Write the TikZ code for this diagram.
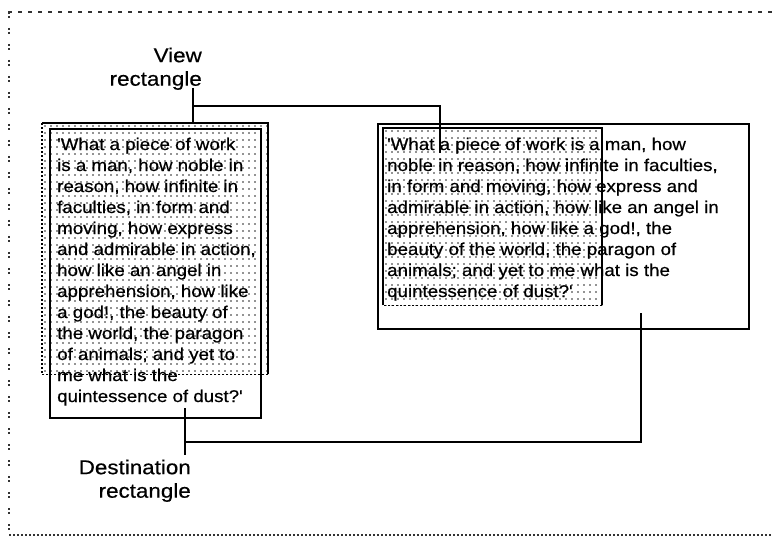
\documentclass[tikz,border=0pt]{standalone}
\usepackage{fontspec}
\setmainfont{Liberation Sans}
\newfontfamily\bodyfont[FakeStretch=1.1,FakeBold=0.6]{Liberation Sans}
\newfontfamily\labelfont[FakeStretch=1.12,FakeBold=0.5]{Liberation Sans}
\tikzset{
  frameline/.style={line width=1.5pt, black!80},
  rectline/.style={line width=2pt, black},
  viewedge/.style={line width=1.5pt, black, dash pattern=on 2pt off 2pt},
  connector/.style={line width=2pt, black},
  viewrect/.style={draw=none, inner sep=0pt, anchor=north west},
  destrect/.style={draw, line width=2pt, inner sep=0pt, anchor=north west},
  dotfill/.style={fill=black!85},
  bodytext/.style={inner sep=0pt, anchor=north west, align=left,
    font=\bodyfont\fontsize{17}{21}\selectfont},
  labeltext/.style={inner sep=0pt, anchor=north east, align=right,
    font=\labelfont\fontsize{20}{23.5}\selectfont}
}
\begin{document}
\begin{tikzpicture}[x=1pt,y=-1pt]
\useasboundingbox (0,0) rectangle (773,537);

% outer frame (open to the right)
\draw[frameline, dash pattern=on 4pt off 6pt] (8,12) -- (773,12);
\draw[frameline, dash pattern=on 2pt off 2pt on 2pt off 10pt] (9,12) -- (9,535);
\draw[frameline, dash pattern=on 2pt off 2pt] (9,535) -- (773,535);

% left: view rectangle with tall destination rectangle
\node[viewrect, minimum width=226pt, minimum height=251pt] (lview) at (42,123) {};
\begin{scope}
  \clip (lview.north west) rectangle (lview.south east);
  \foreach \i in {0,...,37}{
    \foreach \j in {0,...,36}{
      \fill[dotfill] (45+6*\i,126+7*\j) circle (0.9pt);
    }
  }
\end{scope}
\draw[rectline] (lview.north west) -- (lview.north east) -- (lview.south east);
\draw[viewedge] (lview.south east) -- (lview.south west) -- (lview.north west);
\node[destrect, minimum width=211pt, minimum height=289pt] (ldest) at (49,128) {};
\node[bodytext] (ltext) at (57,137.5) {'What a piece of work\\
is a man, how noble in\\
reason, how infinite in\\
faculties, in form and\\
moving, how express\\
and admirable in action,\\
how like an angel in\\
apprehension, how like\\
a god!, the beauty of\\
the world, the paragon\\
of animals; and yet to\\
me what is the\\
quintessence of dust?'};

% right: wide destination rectangle with view rectangle
\node[destrect, minimum width=371pt, minimum height=205pt] (rdest) at (377,123) {};
\node[viewrect, minimum width=219pt, minimum height=177pt] (rview) at (383,128) {};
\begin{scope}
  \clip (rview.north west) rectangle (rview.south east);
  \foreach \i in {0,...,37}{
    \foreach \j in {0,...,26}{
      \fill[dotfill] (386+6*\i,131+7*\j) circle (0.9pt);
    }
  }
\end{scope}
\draw[rectline] (rview.south west) -- (rview.north west) -- (rview.north east) -- (rview.south east);
\draw[viewedge] (rview.south east) -- (rview.south west);
\node[bodytext] (rtext) at (387,137.5) {'What a piece of work is a man, how\\
noble in reason, how infinite in faculties,\\
in form and moving, how express and\\
admirable in action, how like an angel in\\
apprehension, how like a god!, the\\
beauty of the world, the paragon of\\
animals; and yet to me what is the\\
quintessence of dust?'};

% labels
\node[labeltext] (vlabel) at (202,47.5) {View\\rectangle};
\node[labeltext] (dlabel) at (191,459.5) {Destination\\rectangle};

% view connector
\coordinate (vs) at (193,88);
\coordinate (vj) at (193,106);
\coordinate (ve) at (440,153);
\draw[connector] (vs) -- (vs |- lview.north);
\draw[connector] (vj) -| (ve);

% destination connector
\coordinate (ds) at (185,408);
\coordinate (db) at (185,455);
\coordinate (dj) at (185,442);
\coordinate (de) at (641,313);
\draw[connector] (ds) -- (db);
\draw[connector] (dj) -| (de);
\end{tikzpicture}
\end{document}
